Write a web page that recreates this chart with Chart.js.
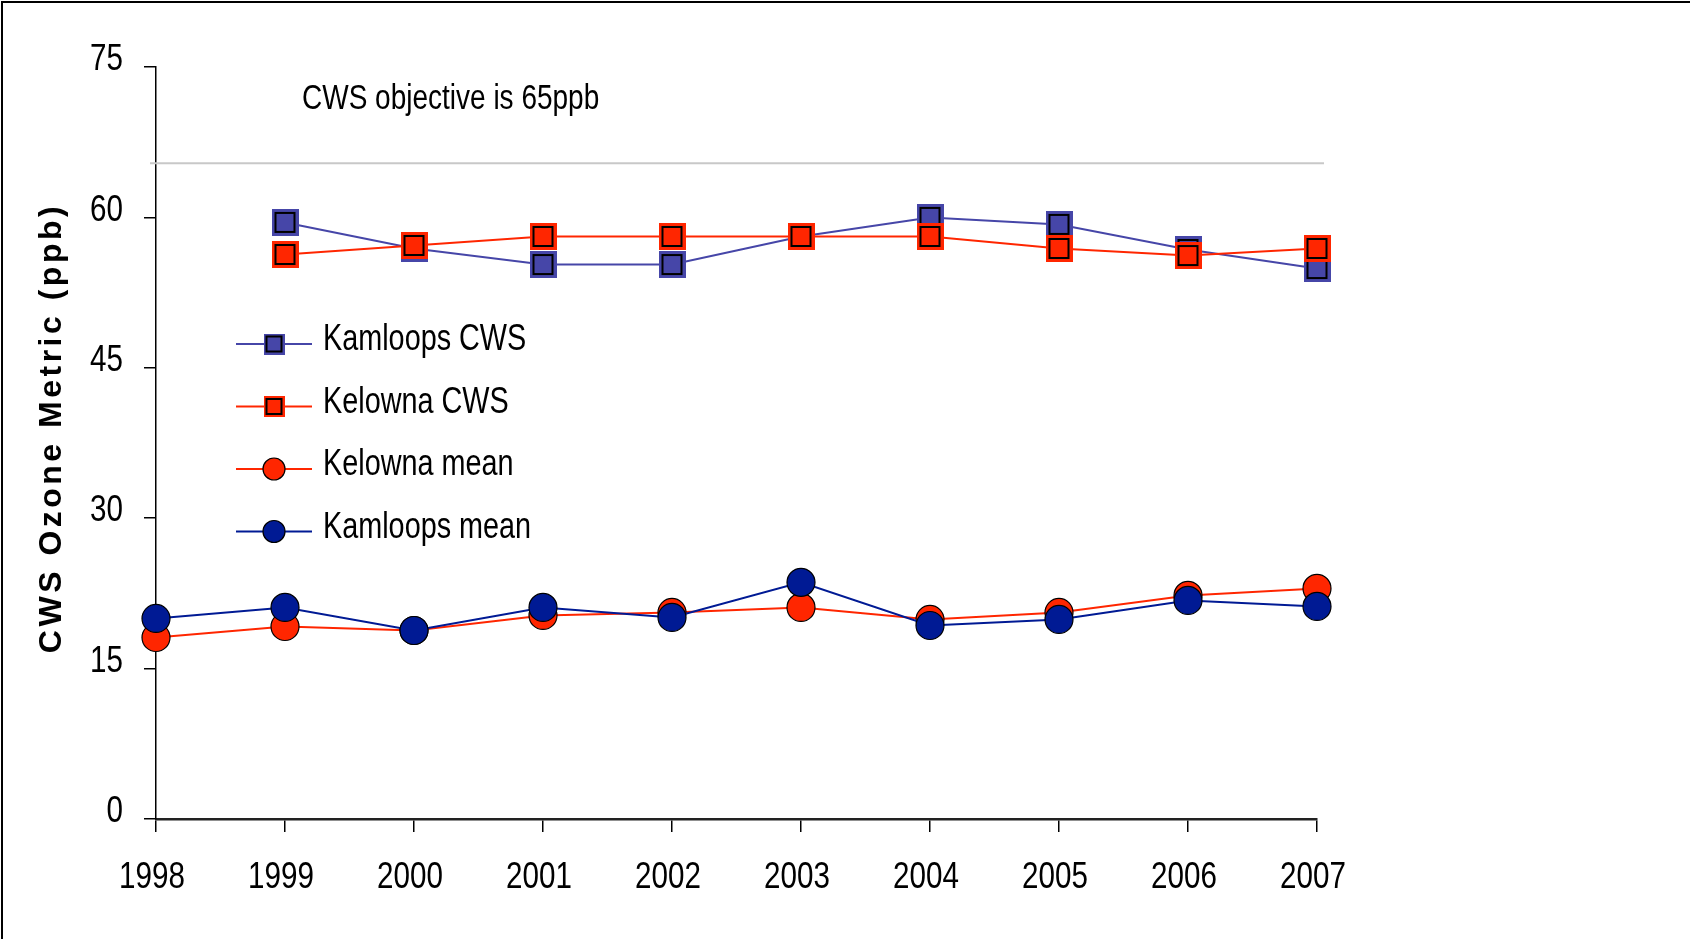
<!DOCTYPE html>
<html>
<head>
<meta charset="utf-8">
<script src="https://cdn.jsdelivr.net/npm/chart.js@4.4.1/dist/chart.umd.min.js"></script>
<style>
  html, body { margin: 0; padding: 0; background: #fff; }
  #wrap { width: 1690px; height: 939px; }
</style>
</head>
<body>
<div id="wrap"><canvas id="ozoneChart" width="1690" height="939"></canvas></div>
<script>
// years on the x axis
const years = ['1998', '1999', '2000', '2001', '2002', '2003', '2004', '2005', '2006', '2007'];

// series (ppb)
const kamloopsCws  = [null, 59.5, 56.9, 55.3, 55.3, 58.1, 60.0, 59.3, 56.8, 54.9];
const kelownaCws   = [null, 56.3, 57.2, 58.1, 58.1, 58.1, 58.1, 56.9, 56.2, 56.9];
const kelownaMean  = [18.1, 19.2, 18.8, 20.3, 20.6, 21.1, 19.9, 20.6, 22.3, 23.0];
const kamloopsMean = [20.0, 21.1, 18.8, 21.1, 20.1, 23.6, 19.3, 19.9, 21.8, 21.2];

// y axis ticks
const yTicks = [0, 15, 30, 45, 60, 75];

// objective line
const objectiveValue = 65.4;
const objectiveText = 'CWS objective is 65ppb';
const axisTitle = 'CWS Ozone Metric (ppb)';

const SANS = '"Liberation Sans", Arial, sans-serif';
const SQUEEZE = 0.8; // the original uses a condensed face
const BLUE = '#4646A8';
const RED = '#FF2600';
const NAVY = '#001A94';

// square marker: coloured square with a black inner outline
function squareMarker(color, size) {
    const c = document.createElement('canvas');
    c.width = size; c.height = size;
    const g = c.getContext('2d');
    g.fillStyle = color;
    g.fillRect(0, 0, size, size);
    g.strokeStyle = '#000';
    g.lineWidth = 2;
    const inset = Math.round(size * 0.13);
    g.strokeRect(inset, inset, size - 2 * inset, size - 2 * inset);
    return c;
}

// narrow text: draw with a horizontal squeeze
function narrowText(ctx, text, x, y, size, align, baseline) {
    ctx.save();
    ctx.translate(x, y);
    ctx.scale(SQUEEZE, 1);
    ctx.font = size + 'px ' + SANS;
    ctx.fillStyle = '#000';
    ctx.textAlign = align;
    ctx.textBaseline = baseline;
    ctx.fillText(text, 0, 0);
    ctx.restore();
}

const blueSq = squareMarker(BLUE, 27);
const redSq = squareMarker(RED, 27);
const blueSqSmall = squareMarker(BLUE, 21);
const redSqSmall = squareMarker(RED, 21);

const datasets = [
    {
        label: 'Kamloops CWS',
        data: kamloopsCws,
        borderColor: BLUE,
        borderWidth: 2,
        pointStyle: blueSq,
        pointRadius: 14,
        order: 4,
        legendMarker: blueSqSmall
    },
    {
        label: 'Kelowna CWS',
        data: kelownaCws,
        borderColor: RED,
        borderWidth: 2,
        pointStyle: redSq,
        pointRadius: 14,
        order: 3,
        legendMarker: redSqSmall
    },
    {
        label: 'Kelowna mean',
        data: kelownaMean,
        borderColor: RED,
        backgroundColor: RED,
        borderWidth: 2,
        pointStyle: 'circle',
        pointRadius: 14,
        pointBorderColor: '#000',
        pointBorderWidth: 1.2,
        order: 2
    },
    {
        label: 'Kamloops mean',
        data: kamloopsMean,
        borderColor: NAVY,
        backgroundColor: NAVY,
        borderWidth: 2,
        pointStyle: 'circle',
        pointRadius: 14,
        pointBorderColor: '#000',
        pointBorderWidth: 1.2,
        order: 1
    }
];

// frame, objective line, tick labels, annotation, axis title, legend
const extras = {
    id: 'extras',
    beforeDatasetsDraw(chart) {
        const ctx = chart.ctx;
        const y = chart.scales.y.getPixelForValue(objectiveValue);
        const a = chart.chartArea;
        ctx.save();
        ctx.strokeStyle = '#C8C8C8';
        ctx.lineWidth = 2;
        ctx.beginPath();
        ctx.moveTo(a.left - 6, y);
        ctx.lineTo(a.right + 7, y);
        ctx.stroke();
        ctx.restore();
    },
    afterDraw(chart) {
        const ctx = chart.ctx;
        const xs = chart.scales.x;
        const ys = chart.scales.y;

        // tick labels
        ys.ticks.forEach((t, i) => {
            narrowText(ctx, String(t.value), 123, ys.getPixelForTick(i) - 7, 37, 'right', 'middle');
        });
        xs.ticks.forEach((t, i) => {
            narrowText(ctx, years[i], xs.getPixelForTick(i) - 4, 888, 37, 'center', 'alphabetic');
        });

        ctx.save();
        // frame
        ctx.strokeStyle = '#000';
        ctx.lineWidth = 2;
        ctx.beginPath();
        ctx.moveTo(2, chart.height);
        ctx.lineTo(2, 2);
        ctx.lineTo(chart.width, 2);
        ctx.stroke();
        ctx.restore();

        // annotation
        narrowText(ctx, objectiveText, 302, 109, 35, 'left', 'alphabetic');

        // axis title
        ctx.save();
        ctx.translate(52, 428);
        ctx.rotate(-Math.PI / 2);
        ctx.font = 'bold 32px ' + SANS;
        ctx.letterSpacing = '3.5px';
        ctx.fillStyle = '#000';
        ctx.textAlign = 'center';
        ctx.textBaseline = 'middle';
        ctx.fillText(axisTitle, 0, 0);
        ctx.restore();

        // legend
        const rowY = [344, 406.5, 469, 531.5];
        chart.data.datasets.forEach((ds, i) => {
            const ly = rowY[i];
            ctx.save();
            ctx.strokeStyle = ds.borderColor;
            ctx.lineWidth = 2;
            ctx.beginPath();
            ctx.moveTo(236, ly);
            ctx.lineTo(312, ly);
            ctx.stroke();
            if (ds.legendMarker) {
                ctx.drawImage(ds.legendMarker, 274 - 10.5, ly - 10.5);
            } else {
                ctx.fillStyle = ds.backgroundColor;
                ctx.strokeStyle = '#000';
                ctx.lineWidth = 1.2;
                ctx.beginPath();
                ctx.arc(274, ly, 11, 0, Math.PI * 2);
                ctx.fill();
                ctx.stroke();
            }
            ctx.restore();
            narrowText(ctx, ds.label, 323, ly + 6, 36, 'left', 'alphabetic');
        });
    }
};

const config = {
    type: 'line',
    data: { labels: years, datasets: datasets },
    options: {
        responsive: false,
        animation: false,
        events: [],
        layout: { padding: { top: 67, right: 373, left: 0, bottom: 0 } },
        plugins: {
            legend: { display: false },
            title: { display: false },
            tooltip: { enabled: false }
        },
        scales: {
            x: {
                offset: false,
                grid: { drawOnChartArea: false, drawTicks: true, tickLength: 13, color: '#000', lineWidth: 1.5 },
                border: { display: true, color: '#222', width: 2.5 },
                ticks: { display: false, autoSkip: false },
                afterFit(scale) { scale.height = 120; }
            },
            y: {
                min: 0,
                max: 75,
                afterBuildTicks(scale) { scale.ticks = yTicks.map(v => ({ value: v })); },
                grid: { drawOnChartArea: false, drawTicks: true, tickLength: 12, color: '#000', lineWidth: 1.5 },
                border: { display: true, color: '#000', width: 1.5 },
                ticks: { display: false },
                afterFit(scale) { scale.width = 156; }
            }
        }
    },
    plugins: [extras]
};

const ctx = document.getElementById('ozoneChart').getContext('2d');
new Chart(ctx, config);
</script>
</body>
</html>
